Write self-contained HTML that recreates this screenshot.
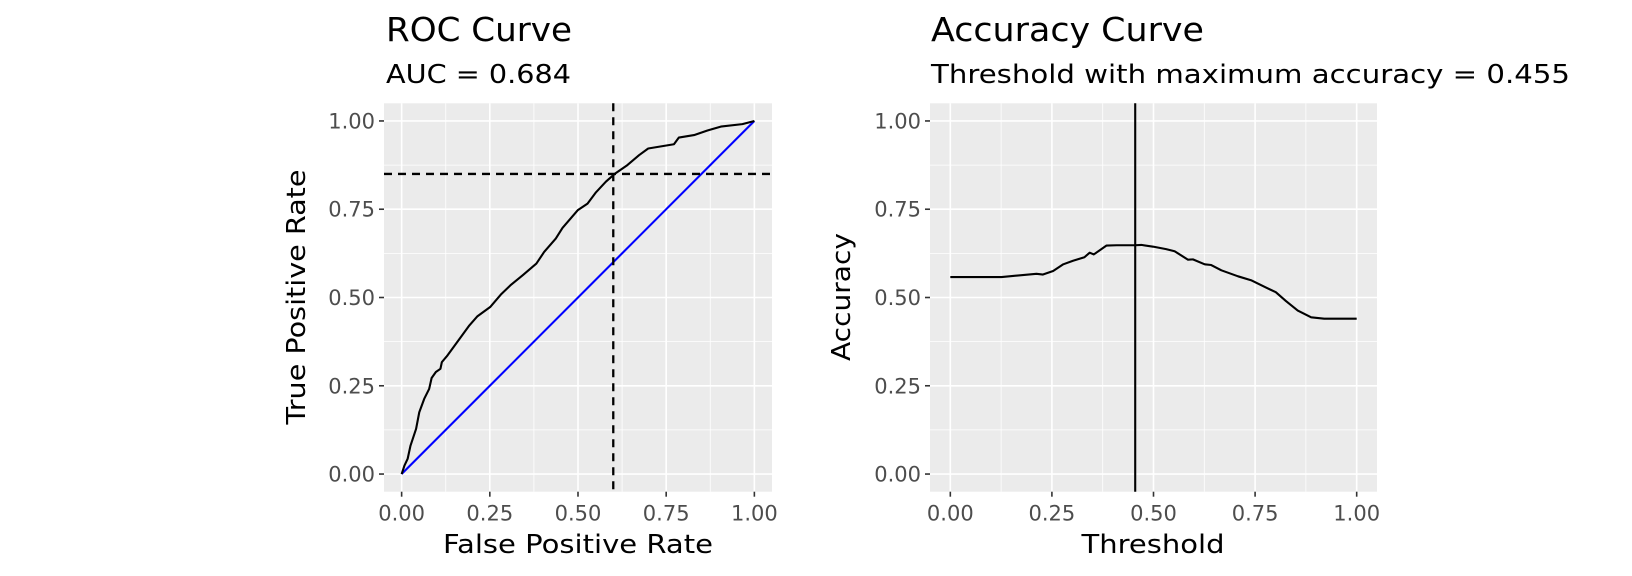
<!DOCTYPE html>
<html><head><meta charset="utf-8"><style>
html,body{margin:0;padding:0;background:#fff;}
svg{display:block;font-family:"DejaVu Sans","Liberation Sans",sans-serif;}
</style></head><body>
<svg id="chart" width="1632" height="576" viewBox="0 0 1632 576" xmlns="http://www.w3.org/2000/svg">
<rect width="1632" height="576" fill="#fff"/>
<g id="roc"></g>
<g id="acc"></g>
<text x="386" y="41" font-size="33" textLength="186" lengthAdjust="spacingAndGlyphs">ROC Curve</text>
<text x="386" y="83" font-size="26" textLength="185" lengthAdjust="spacingAndGlyphs">AUC = 0.684</text>
<text x="931" y="41" font-size="33" textLength="273" lengthAdjust="spacingAndGlyphs">Accuracy Curve</text>
<text x="931" y="83" font-size="26" textLength="639" lengthAdjust="spacingAndGlyphs">Threshold with maximum accuracy = 0.455</text>
<text x="578" y="553" font-size="26" text-anchor="middle" textLength="270" lengthAdjust="spacingAndGlyphs">False Positive Rate</text>
<text x="0" y="0" font-size="26" text-anchor="middle" transform="translate(305,297) rotate(-90)" textLength="255" lengthAdjust="spacingAndGlyphs">True Positive Rate</text>
<text x="1153" y="553" font-size="26" text-anchor="middle" textLength="143" lengthAdjust="spacingAndGlyphs">Threshold</text>
<text x="0" y="0" font-size="26" text-anchor="middle" transform="translate(850,297) rotate(-90)" textLength="128" lengthAdjust="spacingAndGlyphs">Accuracy</text>
</svg>
<script>
const tickValues = [0, 0.25, 0.5, 0.75, 1];
const tickLabels = ["0.00", "0.25", "0.50", "0.75", "1.00"];
const rocFpr = [0,.008,.017,.025,.041,.050,.064,.078,.085,.097,.110,.114,.130,.168,.192,.215,.251,.281,.310,.343,.382,.404,.437,.456,.499,.527,.551,.579,.604,.640,.673,.699,.772,.786,.829,.867,.905,.966,1];
const rocTpr = [0,.024,.043,.080,.128,.175,.213,.241,.272,.289,.298,.317,.336,.388,.421,.447,.473,.508,.536,.563,.596,.629,.667,.697,.747,.766,.798,.828,.850,.875,.903,.922,.934,.953,.960,.973,.984,.991,1];
const rocCutFpr = [0.6];
const rocCutTpr = [0.85];
const accThreshold = [0,.126,.212,.228,.253,.278,.302,.330,.343,.353,.384,.409,.454,.470,.499,.531,.552,.585,.597,.626,.642,.667,.708,.740,.777,.801,.826,.855,.888,.92,1];
const accValue = [.558,.558,.567,.565,.575,.594,.604,.614,.627,.622,.647,.648,.648,.649,.644,.637,.631,.607,.608,.594,.592,.577,.560,.549,.528,.515,.490,.463,.444,.440,.440];
const bestThreshold = [0.455];

const NS = "http://www.w3.org/2000/svg";
function mk(parent, tag, attrs) {
  const e = document.createElementNS(NS, tag);
  for (const k in attrs) e.setAttribute(k, attrs[k]);
  parent.appendChild(e);
  return e;
}
function panel(g, left, right, top, bottom, prefix) {
  const xs = v => left + (v + 0.05) / 1.1 * (right - left);
  const ys = v => bottom - (v + 0.05) / 1.1 * (bottom - top);
  const bg = mk(g, "rect", {x: left, y: top, width: right - left, height: bottom - top, fill: "#EBEBEB"});
  
  
  for (let i = 0; i < tickValues.length - 1; i++) {
    const m = (tickValues[i] + tickValues[i + 1]) / 2;
    const gv = mk(g, "line", {x1: xs(m), x2: xs(m), y1: top, y2: bottom, stroke: "#fff", "stroke-width": 0.8});
    
    
    const gh = mk(g, "line", {x1: left, x2: right, y1: ys(m), y2: ys(m), stroke: "#fff", "stroke-width": 0.8});
    
    
  }
  tickValues.forEach((v, i) => {
    const gv = mk(g, "line", {x1: xs(v), x2: xs(v), y1: top, y2: bottom, stroke: "#fff", "stroke-width": 1.6});
    
    
    const gh = mk(g, "line", {x1: left, x2: right, y1: ys(v), y2: ys(v), stroke: "#fff", "stroke-width": 1.6});
    
    
    const tx = mk(g, "line", {x1: xs(v), x2: xs(v), y1: bottom, y2: bottom + 5, stroke: "#333", "stroke-width": 1.6});
    
    
    const ty = mk(g, "line", {x1: left - 5, x2: left, y1: ys(v), y2: ys(v), stroke: "#333", "stroke-width": 1.6});
    
    
    const lx = mk(g, "text", {x: xs(v), y: bottom + 29, "font-size": 21, fill: "#4D4D4D", "text-anchor": "middle"});
    lx.textContent = tickLabels[i];
    
    
    const ly = mk(g, "text", {x: left - 9, y: ys(v) + 7.5, "font-size": 21, fill: "#4D4D4D", "text-anchor": "end"});
    ly.textContent = tickLabels[i];
    
    
  });
  return {xs, ys};
}
// ROC
const rg = document.getElementById("roc");
const r = panel(rg, 384, 772, 103.3, 491.7, "roc");
const diag = mk(rg, "line", {x1: r.xs(0), y1: r.ys(0), x2: r.xs(1), y2: r.ys(1), stroke: "#0000FF", "stroke-width": 2.1});


const rocPath = mk(rg, "polyline", {points: rocFpr.map((v, i) => r.xs(v) + "," + r.ys(rocTpr[i])).join(" "), fill: "none", stroke: "#000", "stroke-width": 2.1, "stroke-linejoin": "round"});


const vcut = mk(rg, "line", {x1: r.xs(rocCutFpr[0]), x2: r.xs(rocCutFpr[0]), y1: 103.3, y2: 491.7, stroke: "#000", "stroke-width": 2.3, "stroke-dasharray": "8,6"});


const hcut = mk(rg, "line", {x1: 384, x2: 772, y1: r.ys(rocCutTpr[0]), y2: r.ys(rocCutTpr[0]), stroke: "#000", "stroke-width": 2.3, "stroke-dasharray": "8,6"});


// Accuracy
const ag = document.getElementById("acc");
const a = panel(ag, 930, 1377, 103.3, 491.7, "accuracy");
const accPath = mk(ag, "polyline", {points: accThreshold.map((v, i) => a.xs(v) + "," + a.ys(accValue[i])).join(" "), fill: "none", stroke: "#000", "stroke-width": 2.1, "stroke-linejoin": "round"});


const best = mk(ag, "line", {x1: a.xs(bestThreshold[0]), x2: a.xs(bestThreshold[0]), y1: 103.3, y2: 491.7, stroke: "#000", "stroke-width": 2.1});


</script>
</body></html>
